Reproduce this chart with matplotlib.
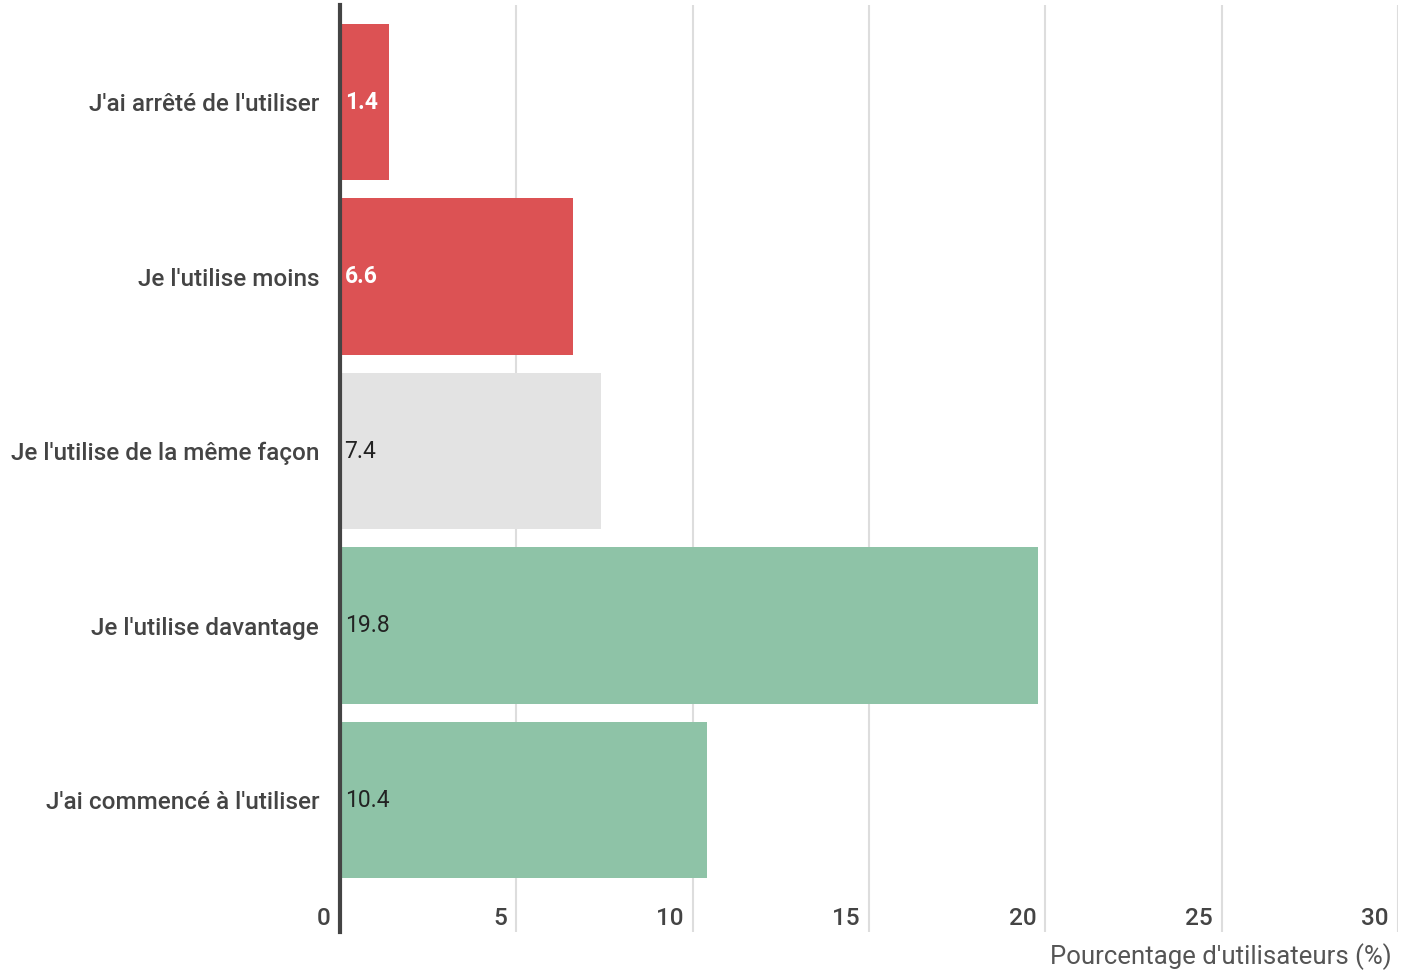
import matplotlib.pyplot as plt
import matplotlib.transforms as mtransforms

plt.rcParams['font.family'] = ['Roboto', 'DejaVu Sans']

categories = ["J'ai arrêté de l'utiliser", "Je l'utilise moins",
              "Je l'utilise de la même façon", "Je l'utilise davantage",
              "J'ai commencé à l'utiliser"]
values = [1.4, 6.6, 7.4, 19.8, 10.4]
colors = ["#DC5254", "#DC5254", "#E3E3E3", "#8EC3A7", "#8EC3A7"]
label_colors = ["white", "white", "#222222", "#222222", "#222222"]
label_weights = ["bold", "bold", "normal", "normal", "normal"]
xticks = [0, 5, 10, 15, 20, 25, 30]
xlabel = "Pourcentage d'utilisateurs (%)"

fig = plt.figure(figsize=(14.05, 9.74), dpi=100)
ax = fig.add_axes([340 / 1405, 1 - 932 / 974, (1398 - 340) / 1405, 927 / 974])

ypos = list(range(len(categories)))
ax.barh(ypos, values, height=0.895, color=colors, zorder=2)

for y, v, c, w in zip(ypos, values, label_colors, label_weights):
    ax.text(0.13, y, f"{v}", ha="left", va="center", fontsize=16.5,
            color=c, fontweight=w, zorder=3)

ax.set_xlim(0, 30)
ax.set_ylim(4.756, -0.556)

ax.set_yticks(ypos)
ax.set_yticklabels(categories, fontsize=17.5, color="#444444", fontweight="medium")
ax.tick_params(axis="y", length=0, pad=15)

# vertical gridlines, tick labels drawn left of each line
ax.set_xticks(xticks)
ax.set_xticklabels([])
ax.tick_params(axis="x", length=0)
ax.grid(axis="x", color="#DDDDDD", linewidth=1.5, zorder=0)
trans = mtransforms.blended_transform_factory(ax.transData, ax.transAxes)
offset = mtransforms.ScaledTranslation(-9 / 100, 0, fig.dpi_scale_trans)
for t in xticks:
    ax.text(t, 0.015, str(t), transform=trans + offset, ha="right",
            va="center", fontsize=17.5, color="#444444", fontweight="medium")

for s in ["top", "right", "bottom"]:
    ax.spines[s].set_visible(False)
ax.spines["left"].set_color("#444444")
ax.spines["left"].set_linewidth(3)
ax.spines["left"].set_zorder(4)

fig.text(1392 / 1405, 1 - 957 / 974, xlabel, ha="right", va="center",
         fontsize=18.5, color="#555555")

fig.savefig("out.png", dpi=100)
